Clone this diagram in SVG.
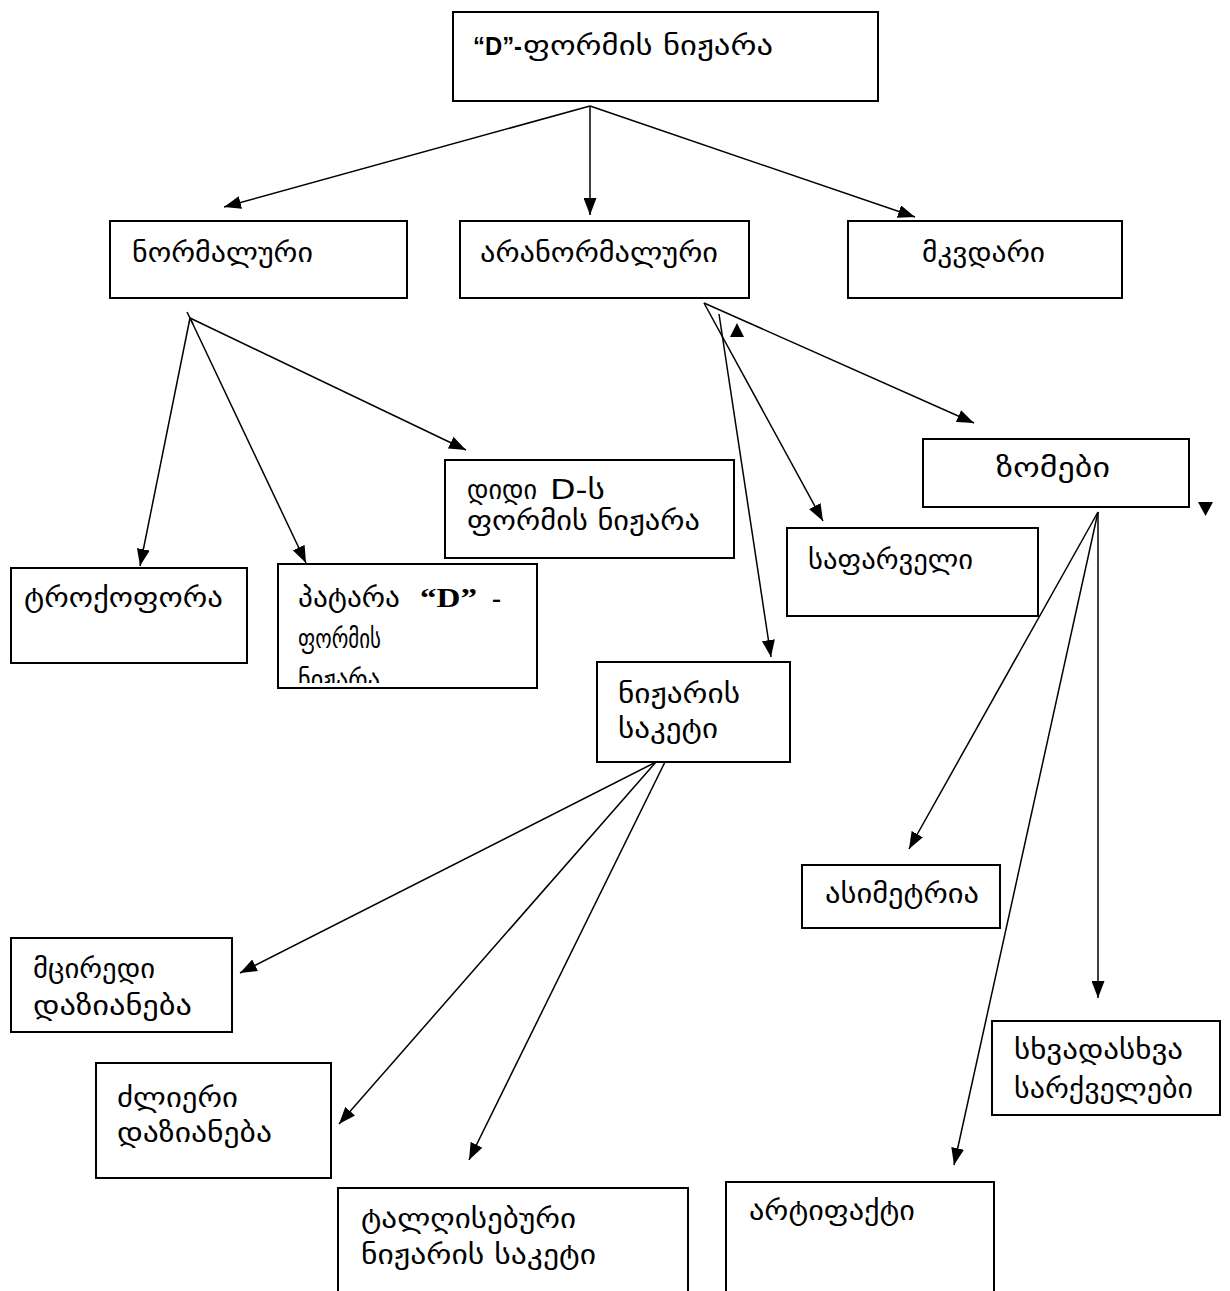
<svg xmlns="http://www.w3.org/2000/svg" width="1230" height="1291" viewBox="0 0 1230 1291">
<style>
.box{fill:#fff;stroke:#000;stroke-width:2}
.ge{font-family:"DejaVu Sans",sans-serif;font-size:27px;fill:#000}
.ar{font-family:"Liberation Sans",Arial,sans-serif;font-weight:bold;font-size:25px;fill:#000}
.tb{font-family:"Liberation Serif","Times New Roman",serif;font-weight:bold;font-size:27px;fill:#000}
.ln{stroke:#000;stroke-width:1.5;fill:none}
</style>
<defs>
<marker id="ah" markerUnits="userSpaceOnUse" markerWidth="17" markerHeight="13" refX="17" refY="6.5" orient="auto">
<path d="M0,0 L17,6.5 L0,13 z" fill="#000"/>
</marker>
<clipPath id="clipP"><rect x="278" y="564" width="258" height="119"/></clipPath>
</defs>
<rect width="1230" height="1291" fill="#fff"/>
<g id="connectors">
<line class="ln" x1="590" y1="106" x2="224" y2="207" marker-end="url(#ah)"/>
<line class="ln" x1="590" y1="106" x2="590" y2="215" marker-end="url(#ah)"/>
<line class="ln" x1="590" y1="106" x2="915" y2="217" marker-end="url(#ah)"/>
<line class="ln" x1="187" y1="312" x2="193" y2="324"/>
<line class="ln" x1="190" y1="318" x2="140" y2="566" marker-end="url(#ah)"/>
<line class="ln" x1="190" y1="318" x2="306" y2="563" marker-end="url(#ah)"/>
<line class="ln" x1="190" y1="318" x2="466" y2="450" marker-end="url(#ah)"/>
<line class="ln" x1="704" y1="303" x2="974" y2="423" marker-end="url(#ah)"/>
<line class="ln" x1="704" y1="303" x2="823" y2="521" marker-end="url(#ah)"/>
<line class="ln" x1="719" y1="314" x2="771" y2="657" marker-end="url(#ah)"/>
<path d="M737,323 L744,337 L730,337 z" fill="#000"/>
<path d="M1198,502 L1213,502 L1205.5,516 z" fill="#000"/>
<line class="ln" x1="1098" y1="512" x2="909" y2="849" marker-end="url(#ah)"/>
<line class="ln" x1="1098" y1="512" x2="954" y2="1165" marker-end="url(#ah)"/>
<line class="ln" x1="1098" y1="512" x2="1098" y2="998" marker-end="url(#ah)"/>
<line class="ln" x1="656" y1="762" x2="240" y2="973" marker-end="url(#ah)"/>
<line class="ln" x1="656" y1="762" x2="339" y2="1124" marker-end="url(#ah)"/>
<line class="ln" x1="665" y1="762" x2="469" y2="1160" marker-end="url(#ah)"/>
</g>
<g id="n-root">
<rect class="box" x="453" y="12" width="425" height="89"/>
<text y="55"><tspan class="ar" x="473" textLength="49" lengthAdjust="spacingAndGlyphs">“D”-</tspan><tspan class="ge" x="523" textLength="250" lengthAdjust="spacingAndGlyphs">ფორმის ნიჟარა</tspan></text>
</g>
<g id="n-normal">
<rect class="box" x="110" y="221" width="297" height="77"/>
<text class="ge" x="132" y="262" textLength="181" lengthAdjust="spacingAndGlyphs">ნორმალური</text>
</g>
<g id="n-abnormal">
<rect class="box" x="460" y="221" width="289" height="77"/>
<text class="ge" x="480" y="262" textLength="238" lengthAdjust="spacingAndGlyphs">არანორმალური</text>
</g>
<g id="n-dead">
<rect class="box" x="848" y="221" width="274" height="77"/>
<text class="ge" x="922" y="262" textLength="123" lengthAdjust="spacingAndGlyphs">მკვდარი</text>
</g>
<g id="n-trocho">
<rect class="box" x="11" y="568" width="236" height="95"/>
<text class="ge" x="24" y="607" textLength="199" lengthAdjust="spacingAndGlyphs">ტროქოფორა</text>
</g>
<g id="n-small-d">
<rect class="box" x="278" y="564" width="259" height="124"/>
<g clip-path="url(#clipP)">
<text y="607"><tspan class="ge" x="298" textLength="102" lengthAdjust="spacingAndGlyphs">პატარა</tspan><tspan class="tb" x="420" textLength="57" lengthAdjust="spacingAndGlyphs">“D”</tspan><tspan class="tb" x="492">-</tspan></text>
<text class="ge" x="298" y="648" textLength="83" lengthAdjust="spacingAndGlyphs">ფორმის</text>
<text class="ge" x="298" y="689" textLength="82" lengthAdjust="spacingAndGlyphs">ნიჟარა</text>
</g>
</g>
<g id="n-big-d">
<rect class="box" x="445" y="460" width="289" height="98"/>
<text y="499"><tspan class="ge" x="467" textLength="70" lengthAdjust="spacingAndGlyphs">დიდი</tspan><tspan class="ge" x="550" font-family="Liberation Serif, DejaVu Sans, serif" textLength="55" lengthAdjust="spacingAndGlyphs">D-ს</tspan></text>
<text class="ge" x="467" y="530" textLength="233" lengthAdjust="spacingAndGlyphs">ფორმის ნიჟარა</text>
</g>
<g id="n-sizes">
<rect class="box" x="923" y="439" width="266" height="68"/>
<text class="ge" x="996" y="477" textLength="114" lengthAdjust="spacingAndGlyphs">ზომები</text>
</g>
<g id="n-cover">
<rect class="box" x="787" y="528" width="251" height="88"/>
<text class="ge" x="808" y="569" textLength="165" lengthAdjust="spacingAndGlyphs">საფარველი</text>
</g>
<g id="n-lock">
<rect class="box" x="597" y="662" width="193" height="100"/>
<text class="ge" x="618" y="703" textLength="122" lengthAdjust="spacingAndGlyphs">ნიჟარის</text>
<text class="ge" x="618" y="738" textLength="100" lengthAdjust="spacingAndGlyphs">საკეტი</text>
</g>
<g id="n-asym">
<rect class="box" x="802" y="865" width="198" height="63"/>
<text class="ge" x="825" y="903" textLength="154" lengthAdjust="spacingAndGlyphs">ასიმეტრია</text>
</g>
<g id="n-minor">
<rect class="box" x="11" y="938" width="221" height="94"/>
<text class="ge" x="33" y="978" textLength="122" lengthAdjust="spacingAndGlyphs">მცირედი</text>
<text class="ge" x="33" y="1015" textLength="159" lengthAdjust="spacingAndGlyphs">დაზიანება</text>
</g>
<g id="n-severe">
<rect class="box" x="96" y="1063" width="235" height="115"/>
<text class="ge" x="117" y="1107" textLength="121" lengthAdjust="spacingAndGlyphs">ძლიერი</text>
<text class="ge" x="117" y="1142" textLength="155" lengthAdjust="spacingAndGlyphs">დაზიანება</text>
</g>
<g id="n-valves">
<rect class="box" x="992" y="1021" width="228" height="94"/>
<text class="ge" x="1014" y="1059" textLength="169" lengthAdjust="spacingAndGlyphs">სხვადასხვა</text>
<text class="ge" x="1014" y="1098" textLength="179" lengthAdjust="spacingAndGlyphs">სარქველები</text>
</g>
<g id="n-wavy">
<rect class="box" x="338" y="1188" width="350" height="110"/>
<text class="ge" x="361" y="1228" textLength="215" lengthAdjust="spacingAndGlyphs">ტალღისებური</text>
<text class="ge" x="361" y="1264" textLength="235" lengthAdjust="spacingAndGlyphs">ნიჟარის საკეტი</text>
</g>
<g id="n-artifact">
<rect class="box" x="726" y="1182" width="268" height="116"/>
<text class="ge" x="749" y="1220" textLength="166" lengthAdjust="spacingAndGlyphs">არტიფაქტი</text>
</g>
</svg>
